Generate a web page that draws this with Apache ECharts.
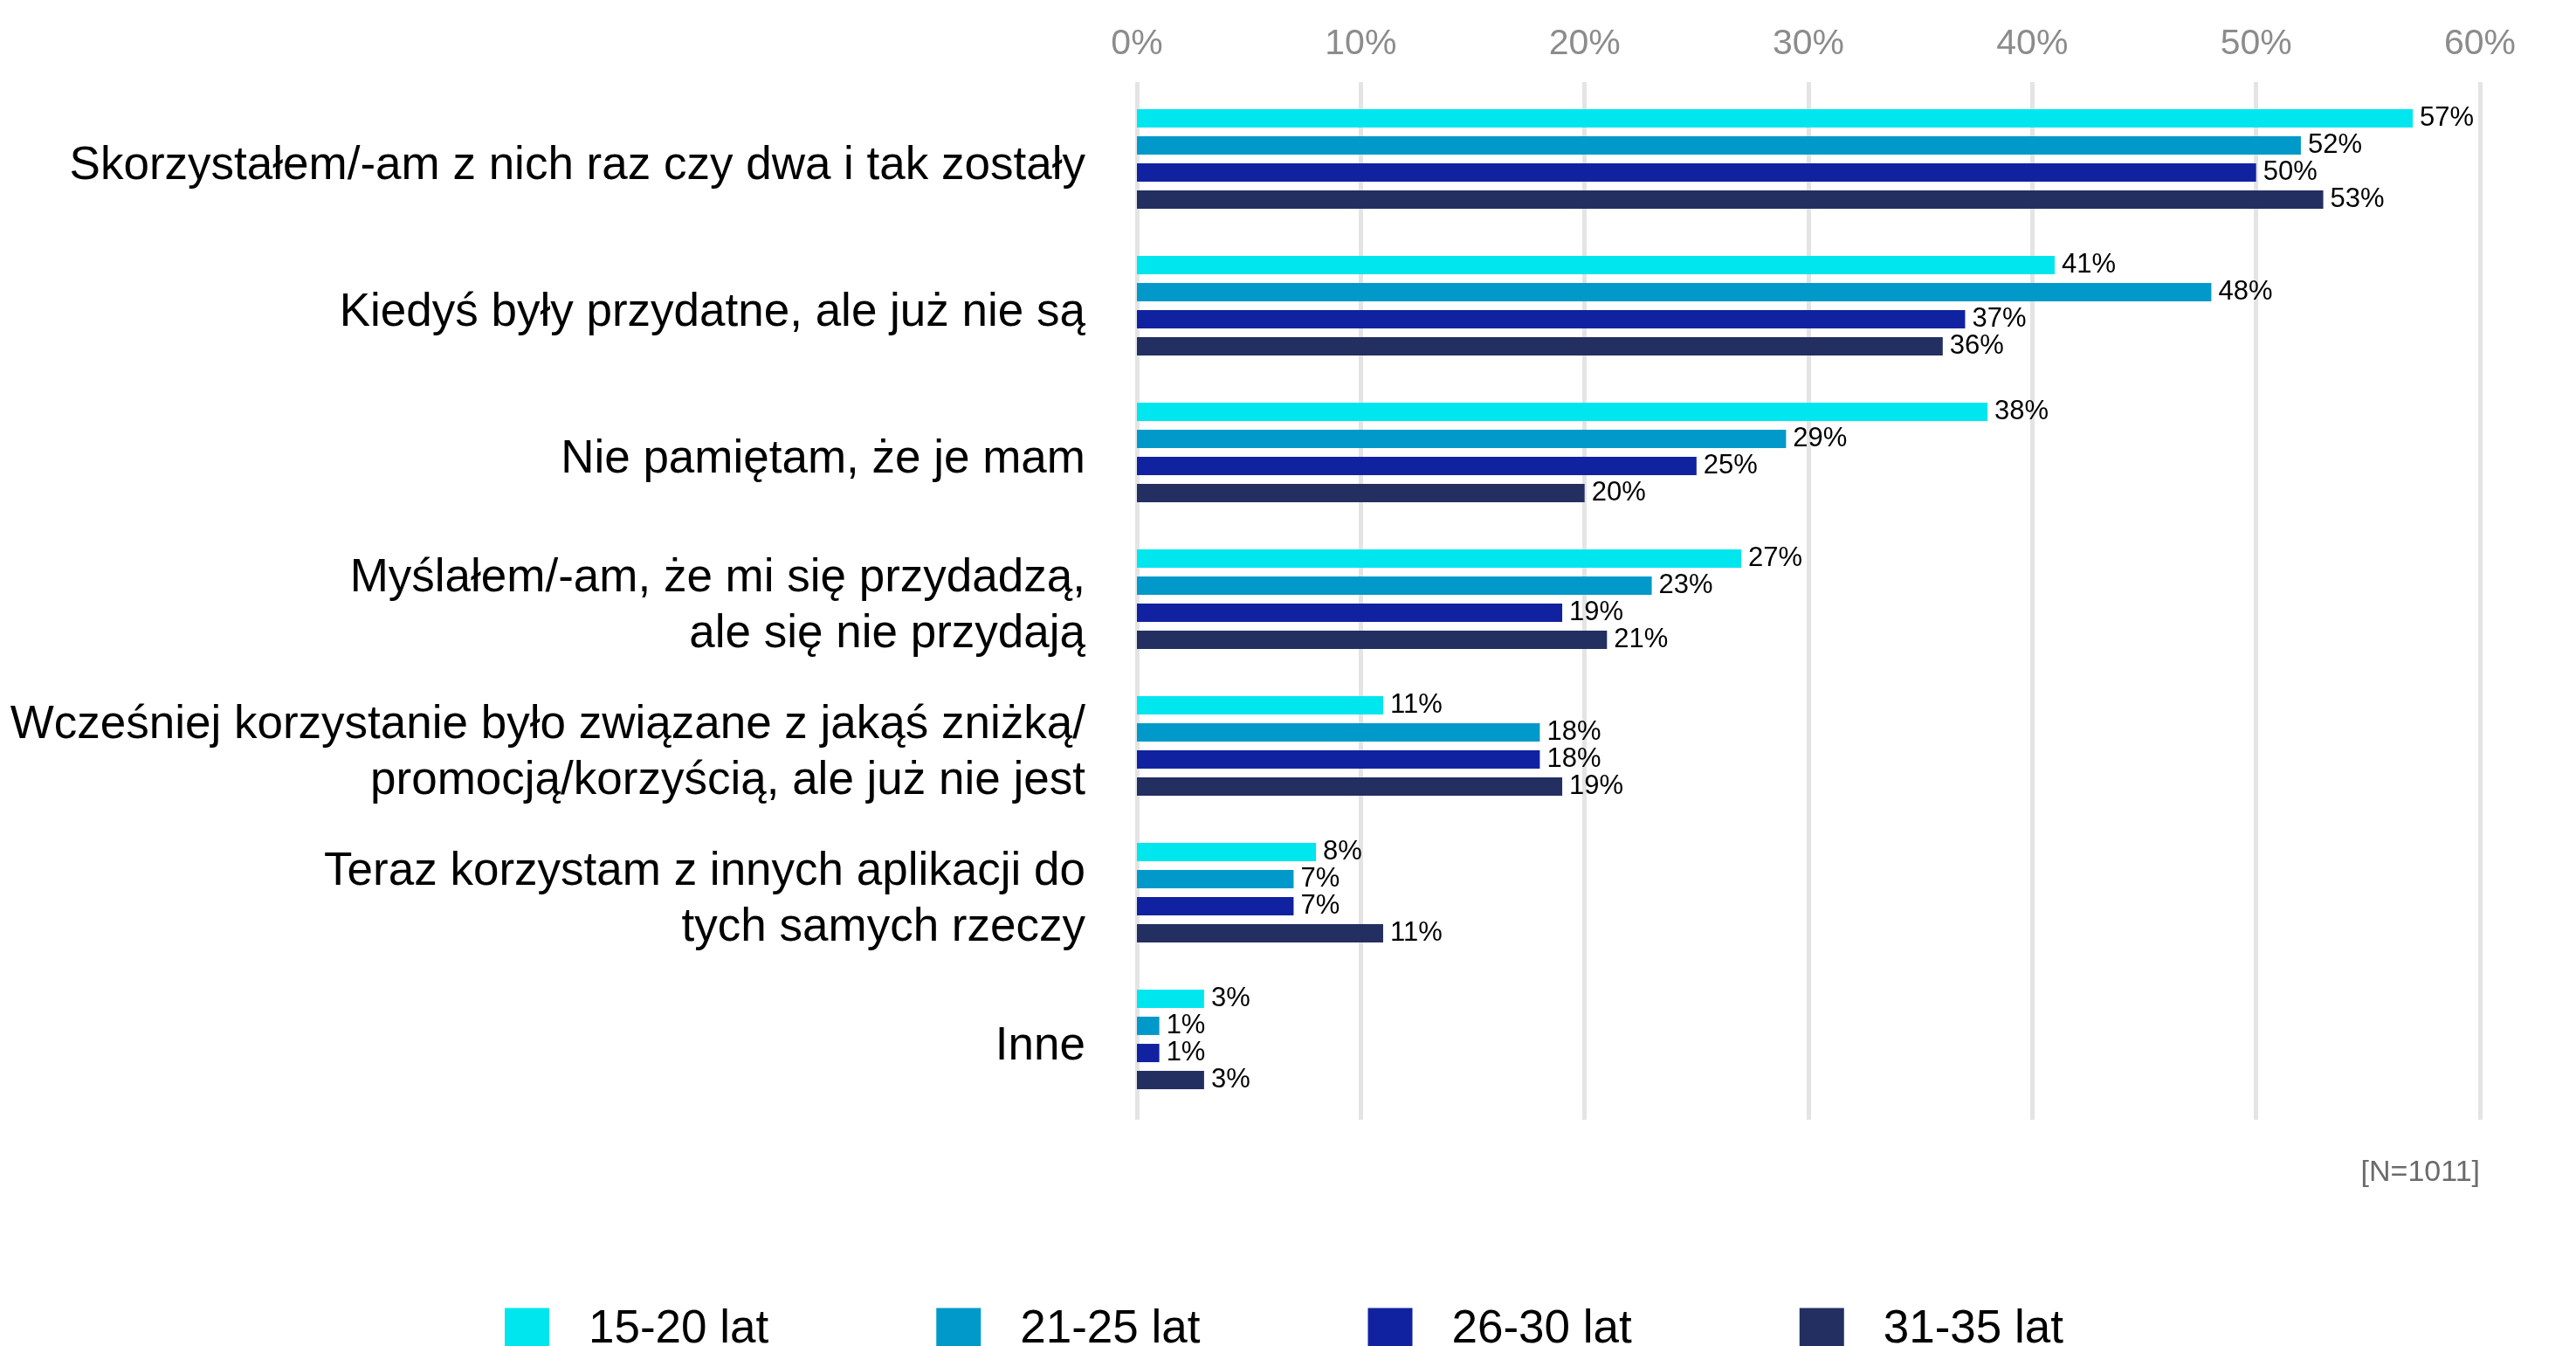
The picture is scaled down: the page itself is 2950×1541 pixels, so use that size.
<!DOCTYPE html>
<html>
<head>
<meta charset="utf-8">
<title>Powody nieużywania aplikacji</title>
<script src="https://cdn.jsdelivr.net/npm/echarts@6/dist/echarts.min.js"></script>
<style>
  html, body { margin: 0; padding: 0; background: #ffffff; }
  #chart { width: 2950px; height: 1541px; }
</style>
</head>
<body>
<div id="chart"></div>
<script>
// Answer categories (top to bottom)
const categories = [
  'Skorzystałem/-am z nich raz czy dwa i tak zostały',
  'Kiedyś były przydatne, ale już nie są',
  'Nie pamiętam, że je mam',
  'Myślałem/-am, że mi się przydadzą,\nale się nie przydają',
  'Wcześniej korzystanie było związane z jakąś zniżką/\npromocją/korzyścią, ale już nie jest',
  'Teraz korzystam z innych aplikacji do\ntych samych rzeczy',
  'Inne'
];

// Age groups
const seriesNames = ['15-20 lat', '21-25 lat', '26-30 lat', '31-35 lat'];

// Shares of respondents, in percent
const age15to20 = [57, 41, 38, 27, 11, 8, 3];
const age21to25 = [52, 48, 29, 23, 18, 7, 1];
const age26to30 = [50, 37, 25, 19, 18, 7, 1];
const age31to35 = [53, 36, 20, 21, 19, 11, 3];

// Value axis ticks
const axisMin = 0;
const axisMax = 60;
const axisStep = 10;

const sampleNote = '[N=1011]';

const seriesValues = [age15to20, age21to25, age26to30, age31to35];
const colors = ['#00E6EE', '#0099C9', '#1122A0', '#232F61'];
const FONT = '"Liberation Sans", Arial, Helvetica, sans-serif';

const chart = echarts.init(document.getElementById('chart'), null, { renderer: 'canvas' });

const option = {
  backgroundColor: '#ffffff',
  animation: false,
  textStyle: { fontFamily: FONT },
  color: colors,
  legend: {
    data: seriesNames,
    left: 573,
    top: 1491,
    icon: 'rect',
    itemWidth: 51,
    itemHeight: 50,
    itemGap: 192,
    selectedMode: false,
    textStyle: {
      fontFamily: FONT,
      fontSize: 53,
      color: '#000000',
      padding: [0, 0, 0, 40]
    }
  },
  grid: [
    // gridline frame (slightly taller than the bar area)
    { left: 1302, right: 110, top: 94, height: 1188, containLabel: false },
    // bar area
    { left: 1302, right: 110, top: 98, height: 1176, containLabel: false },
    // category label band, set a little lower than the bars
    { left: 1302, right: 110, top: 106, height: 1176, containLabel: false }
  ],
  xAxis: [
    {
      type: 'value',
      gridIndex: 0,
      position: 'top',
      min: axisMin,
      max: axisMax,
      interval: axisStep,
      axisLine: { show: false },
      axisTick: { show: false },
      axisLabel: {
        formatter: '{value}%',
        fontFamily: FONT,
        fontSize: 41,
        color: '#8C8C8C',
        margin: 23
      },
      splitLine: { show: true, lineStyle: { color: '#E4E4E4', width: 5 } }
    },
    {
      type: 'value',
      gridIndex: 1,
      min: axisMin,
      max: axisMax,
      interval: axisStep,
      show: false,
      splitLine: { show: false }
    },
    {
      type: 'value',
      gridIndex: 2,
      min: axisMin,
      max: axisMax,
      interval: axisStep,
      show: false,
      splitLine: { show: false }
    }
  ],
  yAxis: [
    {
      type: 'category',
      gridIndex: 0,
      data: categories,
      show: false
    },
    {
      type: 'category',
      gridIndex: 1,
      data: categories,
      inverse: true,
      axisLine: { show: false },
      axisTick: { show: false },
      axisLabel: { show: false },
      splitLine: { show: false }
    },
    {
      type: 'category',
      gridIndex: 2,
      data: categories,
      inverse: true,
      axisLine: { show: false },
      axisTick: { show: false },
      axisLabel: {
        fontFamily: FONT,
        fontSize: 53,
        lineHeight: 64,
        color: '#000000',
        margin: 59,
        align: 'right'
      },
      splitLine: { show: false }
    }
  ],
  series: seriesNames.map((name, i) => ({
    name: name,
    type: 'bar',
    xAxisIndex: 1,
    yAxisIndex: 1,
    data: seriesValues[i],
    barWidth: 21,
    barGap: '48%',
    itemStyle: { color: colors[i] },
    label: {
      show: true,
      position: 'right',
      distance: 8,
      formatter: '{c}%',
      fontFamily: FONT,
      fontSize: 31,
      color: '#000000'
    }
  })),
  graphic: [
    {
      type: 'text',
      right: 110,
      top: 1326,
      style: {
        text: sampleNote,
        fontFamily: FONT,
        fontSize: 34,
        fill: '#6B6B6B'
      }
    }
  ]
};

chart.setOption(option);
</script>
</body>
</html>
